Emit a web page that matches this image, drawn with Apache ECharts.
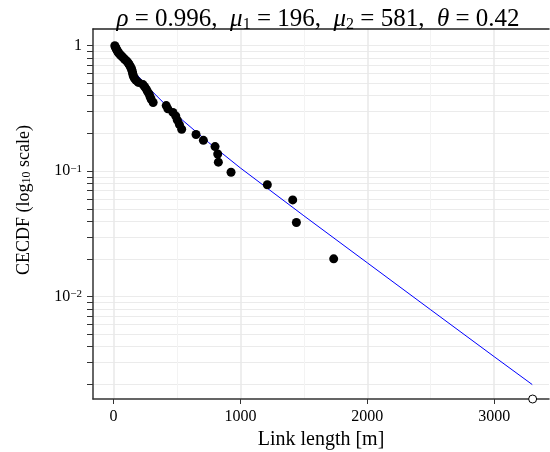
<!DOCTYPE html>
<html><head><meta charset="utf-8">
<script src="https://cdn.jsdelivr.net/npm/echarts@6/dist/echarts.min.js"></script>
<style>html,body{margin:0;padding:0;background:#fff}#c{width:550px;height:452px}</style>
</head><body><div id="c"></div>
<script>
// Empirical CECDF points (link length in m, CECDF value)
const linkLength = [10,14,18,22,27,32,37,45,55,65,75,86,97,108,117,124,131,137,143,147,150,153,157,165,177,195,232,245,258,268,280,288,297,312,415,428,468,490,503,519,537,650,708,800,821,826,926,1212,1412,1441,1735,3303];
const cecdf = [1.000,0.980,0.961,0.941,0.922,0.902,0.882,0.863,0.843,0.824,0.804,0.784,0.765,0.745,0.725,0.706,0.686,0.667,0.647,0.627,0.608,0.588,0.569,0.549,0.529,0.510,0.490,0.471,0.451,0.431,0.412,0.392,0.373,0.353,0.333,0.314,0.294,0.275,0.255,0.235,0.216,0.196,0.176,0.157,0.137,0.118,0.098,0.078,0.059,0.039,0.020,0];
// Fitted curve
const fitX = [0,50,100,150,200,300,400,500,750,1000,1500,2000,2500,3000,3300];
const fitY = [1.000,0.858,0.741,0.644,0.563,0.437,0.346,0.278,0.169,0.106,0.0441,0.0186,0.00785,0.00332,0.00199];
// Axis ticks
const xTicks = [0,1000,2000,3000];
const xMinorGrid = [500,1500,2500];
const yLabelValues = [0.01,0.1,1];
const yLabelTexts = ['10{sup|−2}','10{sup|−1}','1'];
const yTickValues = [0.002,0.003,0.004,0.005,0.006,0.007,0.008,0.009,0.01,0.02,0.03,0.04,0.05,0.06,0.07,0.08,0.09,0.1,0.2,0.3,0.4,0.5,0.6,0.7,0.8,0.9,1];
const titleText = '{i|ρ}{n| = 0.996,  }{i|μ}{sub|1}{n| = 196,  }{i|μ}{sub|2}{n| = 581,  }{i|θ}{n| = 0.42}';

const X_MIN = -162, X_MAX = 3432;
const Y_MIN = 0.001527, Y_MAX = 1.359;
const FONT = 'Liberation Serif';

const filled = [], open = [];
for (let i = 0; i < linkLength.length; i++) {
  if (cecdf[i] > 0) filled.push([linkLength[i], cecdf[i]]);
  else open.push([linkLength[i], Y_MIN]);
}
const fit = fitX.map((x, i) => [x, fitY[i]]);

const chart = echarts.init(document.getElementById('c'), null, {renderer: 'canvas'});
chart.setOption({
  animation: false,
  backgroundColor: '#fff',
  textStyle: {fontFamily: FONT},
  title: {
    text: titleText,
    left: 313, top: 0, textAlign: 'center',
    textStyle: {
      fontFamily: FONT, fontWeight: 'normal', color: '#000',
      rich: {
        n: {fontFamily: FONT, fontSize: 25, color: '#000', lineHeight: 28},
        i: {fontFamily: FONT, fontSize: 25, fontStyle: 'italic', color: '#000', lineHeight: 28},
        sub: {fontFamily: FONT, fontSize: 16, color: '#000', lineHeight: 16, verticalAlign: 'bottom'}
      }
    }
  },
  grid: {left: 93, top: 29, right: 1, bottom: 53, containLabel: false, outerBoundsMode: 'none'},
  xAxis: [{
    type: 'value', min: X_MIN, max: X_MAX,
    name: 'Link length [m]', nameLocation: 'middle', nameGap: 28,
    nameTextStyle: {fontFamily: FONT, fontSize: 20, color: '#000'},
    axisLine: {show: true, onZero: false, lineStyle: {color: '#333', width: 1.5}},
    axisTick: {show: true, length: 5, customValues: xTicks, lineStyle: {color: '#333', width: 1}},
    axisLabel: {customValues: xTicks, fontFamily: FONT, fontSize: 16, color: '#000', margin: 10,
      formatter: function (v) { return String(v); }},
    splitLine: {show: true, lineStyle: {color: '#e8e8e8', width: 1.5}}
  }, {
    type: 'value', min: X_MIN, max: X_MAX, position: 'top',
    axisLine: {show: true, onZero: false, lineStyle: {color: '#222', width: 1.5}},
    axisTick: {show: false, customValues: xMinorGrid},
    axisLabel: {show: false, customValues: xMinorGrid},
    splitLine: {show: true, lineStyle: {color: '#f3f3f3', width: 1}}
  }],
  yAxis: {
    type: 'log', logBase: 10, min: Y_MIN, max: Y_MAX,
    name: 'CECDF (log{sub|10} scale)', nameLocation: 'middle', nameGap: 60,
    nameTextStyle: {
      fontFamily: FONT, fontSize: 18, color: '#000', padding: [0, 0, 0, 28],
      rich: {
        sub: {fontFamily: FONT, fontSize: 12, color: '#000', verticalAlign: 'bottom', lineHeight: 12}
      }
    },
    axisLine: {show: true, onZero: false, lineStyle: {color: '#333', width: 1.5}},
    axisTick: {show: true, length: 6, customValues: yTickValues, lineStyle: {color: '#333', width: 1}},
    axisLabel: {
      customValues: yLabelValues, fontFamily: FONT, fontSize: 16, color: '#000', margin: 11,
      formatter: function (v) {
        for (let i = 0; i < yLabelValues.length; i++) {
          if (Math.abs(Math.log10(v) - Math.log10(yLabelValues[i])) < 1e-6) return yLabelTexts[i];
        }
        return '';
      },
      rich: {
        sup: {fontFamily: FONT, fontSize: 11, color: '#000', verticalAlign: 'top', lineHeight: 10}
      }
    },
    splitLine: {show: true, lineStyle: {color: '#ebebeb', width: 1}}
  },
  series: [{
    type: 'line', data: fit, showSymbol: false, symbol: 'none',
    lineStyle: {color: '#0000ff', width: 1}, z: 2
  }, {
    type: 'scatter', data: filled, symbol: 'circle', symbolSize: 9,
    itemStyle: {color: '#000', opacity: 1}, z: 3
  }, {
    type: 'scatter', data: open, symbol: 'circle', symbolSize: 8,
    itemStyle: {color: '#fff', borderColor: '#000', borderWidth: 1, opacity: 1}, z: 4
  }]
});
</script>
</body></html>
